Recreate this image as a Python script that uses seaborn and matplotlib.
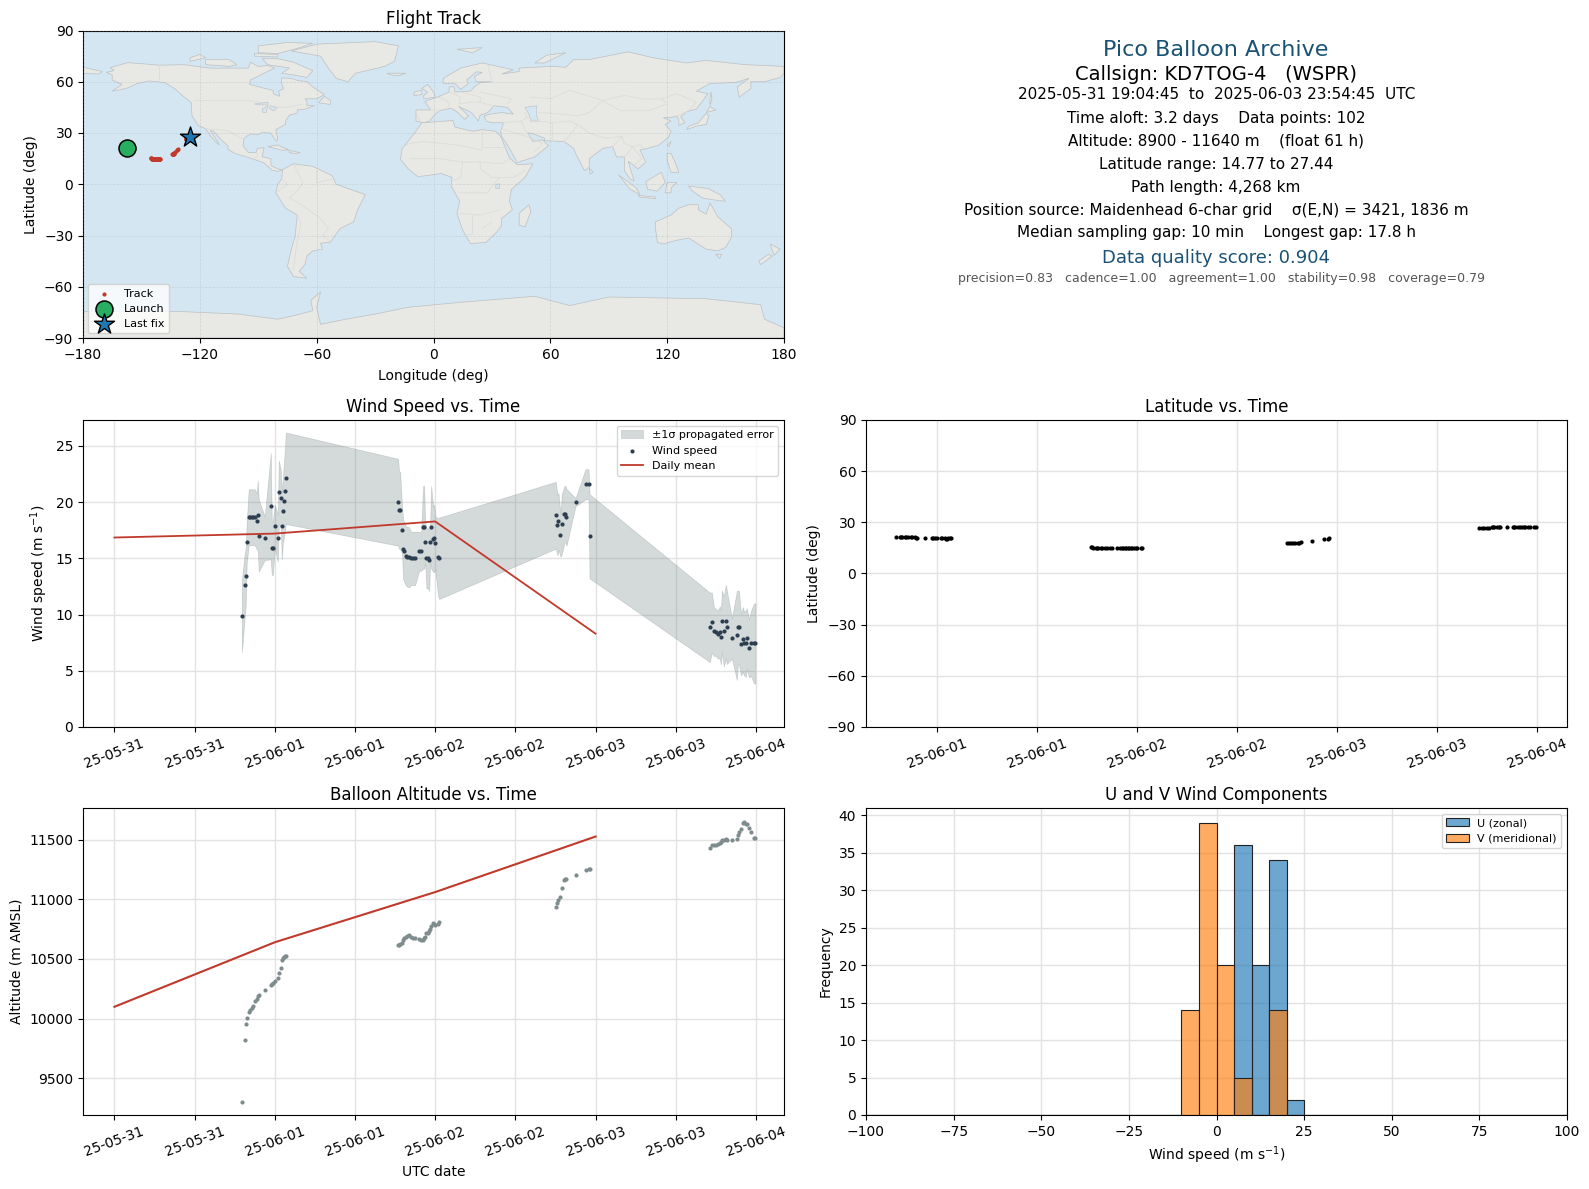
import numpy as np
import pandas as pd
import matplotlib
matplotlib.use("Agg")
import matplotlib.pyplot as plt
import matplotlib.dates as mdates
import seaborn as sns

# ---------- time series data (hours since 2025-05-31 00:00 UTC) ----------
hours = [19.08,19.5,19.65,19.8,20.1,20.3,20.55,20.8,21.0,21.3,21.45,21.6,22.5,23.4,23.55,23.7,24.0,24.45,24.6,24.9,25.05,25.2,25.35,25.5,25.65,
         42.45,42.6,42.75,43.05,43.2,43.35,43.65,43.8,44.1,44.4,44.7,45.0,45.6,45.9,46.2,46.35,46.5,46.7,46.95,47.1,47.25,47.4,47.7,47.85,48.0,48.45,48.6,
         66.05,66.3,66.45,66.75,66.95,67.35,67.5,67.65,69.0,70.5,70.95,71.1,
         89.1,89.4,89.7,90.0,90.3,90.6,90.75,90.9,91.2,91.5,91.65,92.4,93.15,93.3,93.45,93.75,94.05,94.2,94.5,94.65,94.95,95.25,95.7,95.91]
wind = [9.84,12.6,13.4,16.42,18.65,18.65,18.65,18.65,18.65,18.29,18.83,17.02,16.78,19.63,15.89,15.89,17.85,16.78,20.88,20.34,17.85,19.18,20.07,20.96,22.12,
        19.99,19.27,19.27,17.49,15.8,15.62,15.18,15.15,15.09,15.0,15.0,15.0,15.62,15.62,17.76,17.76,16.42,15.0,15.0,14.82,16.42,17.76,16.69,16.78,16.34,15.09,15.0,
        18.83,17.94,18.29,17.05,18.03,18.92,18.92,18.65,19.99,21.59,21.59,16.96,
        8.86,9.3,8.5,8.41,8.23,8.41,7.97,9.39,8.5,9.39,8.86,7.88,8.15,8.86,8.86,7.34,7.79,7.43,7.43,7.88,6.99,7.43,7.43,7.43]
wind_sigma = [3.2,2.85,2.52,1.78,2.49,2.49,2.49,2.49,2.49,2.49,3.09,3.2,1.93,4.72,2.37,2.37,1.93,2.08,2.82,2.52,2.97,2.82,3.26,3.56,4.07,
              3.86,3.44,3.44,2.08,2.61,2.67,2.61,2.67,2.67,2.37,2.37,2.37,1.72,1.72,3.68,3.68,1.78,2.67,2.67,2.73,1.69,3.68,2.91,2.97,2.37,3.47,3.62,
              2.97,2.67,2.52,1.9,2.67,2.52,2.52,2.52,0.36,1.34,1.34,3.74,
              3.09,2.67,2.17,2.08,2.14,2.31,2.4,2.76,3.12,3.26,3.26,1.78,3.98,3.26,3.26,2.76,2.88,2.82,2.97,2.67,2.58,2.88,3.56,3.56]
altitude = [9301,9819,9954,10004,10055,10071,10088,10105,10150,10167,10192,10200,10240,10282,10290,10298,10312,10340,10382,10424,10492,10508,10517,10525,10528,
            10618,10618,10626,10634,10660,10674,10688,10696,10704,10688,10679,10676,10668,10660,10660,10676,10685,10718,10718,10732,10755,10777,10803,10794,10783,10794,10811,
            10939,10972,10997,11022,11098,11165,11170,11173,11207,11249,11257,11257,
            11425,11452,11458,11458,11461,11475,11480,11494,11500,11503,11500,11500,11508,11542,11559,11592,11640,11643,11634,11626,11600,11564,11517,11517]
latitude = [21.3,21.3,21.3,21.3,21.2,21.2,21.2,21.2,21.2,21.2,21.1,21.1,20.9,20.6,20.6,20.7,20.7,20.6,20.6,20.6,20.5,20.5,20.6,20.6,20.6,
            15.3,15.4,15.2,15.0,14.9,14.8,14.8,14.8,14.8,14.8,14.8,14.8,14.8,14.8,14.8,14.8,14.8,14.8,14.8,14.8,14.8,14.77,14.8,14.8,14.8,14.8,14.8,
            17.6,17.6,17.7,17.7,17.8,18.0,18.1,18.2,18.9,20.0,20.2,20.6,
            26.6,26.6,26.6,26.7,26.8,27.0,27.0,27.1,27.1,27.0,27.0,27.1,27.0,27.0,27.0,27.1,27.1,27.1,27.2,27.2,27.2,27.3,27.4,27.44]
longitude = [-157.5,-157.3,-157.2,-157.1,-156.9,-156.8,-156.7,-156.6,-156.5,-156.3,-156.2,-156.1,-155.8,-155.4,-155.3,-155.2,-155.1,-154.9,-154.8,-154.6,-154.5,-154.4,-154.3,-154.2,-154.0,
             -145.2,-145.1,-145.0,-144.8,-144.6,-144.5,-144.3,-144.1,-143.9,-143.7,-143.5,-143.3,-143.0,-142.7,-142.4,-142.2,-142.0,-141.8,-141.6,-141.4,-141.3,-141.2,-141.1,-141.0,-140.9,-140.7,-140.5,
             -134.2,-134.0,-133.9,-133.8,-133.7,-133.5,-133.4,-133.3,-132.7,-131.9,-131.5,-131.2,
             -127.2,-127.1,-127.0,-126.9,-126.8,-126.7,-126.6,-126.5,-126.4,-126.3,-126.3,-126.1,-125.9,-125.8,-125.7,-125.6,-125.5,-125.4,-125.3,-125.2,-125.1,-125.0,-124.9,-124.8]

launch_point = (-157.2, 21.4)
last_fix_point = (-125.0, 27.44)

mean_days = ["2025-05-31", "2025-06-01", "2025-06-02", "2025-06-03"]
mean_wind = [16.85, 17.2, 18.28, 8.3]
mean_altitude = [10100, 10640, 11060, 11525]

u_counts = [36, 20, 34, 2]
u_bin_centres = [7.5, 12.5, 17.5, 22.5]
v_counts = [14, 39, 20, 5, 14]
v_bin_centres = [-7.5, -2.5, 2.5, 7.5, 17.5]

# ---------- map outlines (lon, lat) ----------
NORTH_AMERICA = [(-168,65.5),(-164,66.5),(-166,68.3),(-157,71.2),(-148,70.4),(-141,69.7),(-128,70),(-115,68),(-108,68),(-95,68),(-94,71.5),(-90,69),(-85,69.5),(-81.5,68),(-87,65),(-94,61),(-94.5,58.5),(-88,56.5),(-82.5,55),(-82,52.8),(-79,51.5),(-79.5,54.5),(-77,56),(-78,59),(-78,62.3),(-73,62),(-70,60.8),(-65,60),(-62,57),(-56,52.5),(-60,50),(-66,50),(-65,48.5),(-65,46),(-61,46),(-66,44),(-70,43.5),(-70,41.6),(-74,40.5),(-76,37),(-76,35),(-81,32),(-80,27),(-80.5,25),(-82,27),(-83.5,30),(-88,30.3),(-90,29),(-94,29.5),(-97.3,27),(-97.8,22.5),(-95,18.5),(-91,18.7),(-90.5,21),(-87,21.4),(-88,16),(-83.5,15),(-83.5,11),(-80,9),(-77.5,8.5),(-80,7.5),(-83,8.3),(-87,12.5),(-92,14.5),(-96,16),(-102,18),(-105.5,20.5),(-105.5,22.5),(-109,26),(-113,31),(-114.8,31.5),(-112,27),(-110,23),(-112,25),(-115,29),(-117,32.5),(-121,34.5),(-124,40),(-124.5,48),(-128,51),(-133,56),(-138,59.5),(-146,60.5),(-152,59),(-158,56),(-165,54.5),(-160,58.5),(-165,61),(-165,64)]
SOUTH_AMERICA = [(-77.5,8.5),(-72,12),(-62,10.5),(-52,5),(-50,0),(-44,-2.5),(-35,-6),(-39,-15),(-41,-22),(-48,-26),(-53,-34),(-58,-34.5),(-57,-38),(-62,-39),(-65,-42),(-66,-47),(-69,-51),(-65,-55),(-72,-54),(-75,-48),(-73,-38),(-71,-30),(-70,-18),(-76,-14),(-81,-5),(-80,0),(-78,3)]
AFRICA = [(-6,36),(10,37.3),(11,33.5),(20,31),(25,32),(32,31),(34.5,28),(37,21),(39,15.5),(43,11.5),(51,12),(47,4),(40,-3),(39,-10),(40.5,-15),(35,-20),(35,-24),(32.5,-28),(27,-34),(19,-34.8),(15,-27),(12,-17),(13.5,-10),(9,-1),(9.5,4),(4,6.3),(-4,5),(-8,4.5),(-13,9),(-17,14.7),(-16,21),(-10,29.5)]
EURASIA = [(-9,37),(-9,43.5),(-1.5,43.5),(-4.5,48.5),(2,51),(8,54),(8,57),(10.5,57),(11,54),(19,54.5),(21,57),(24,59.5),(30,60),(22,60),(21,63),(25,65.5),(22,65.8),(17,61),(18,59),(14,55.5),(11,59),(5,59),(5,62),(14,68),(25,71),(41,67),(35,64.5),(44,66),(44,68),(60,69),(68,68.5),(72,73),(80,73),(100,77.5),(113,74),(130,71),(140,72.5),(160,70),(180,69),(180,65),(178,62.5),(170,60),(163,60),(163,56),(157,51),(156,57),(162,62),(155,59.5),(142,59),(135,54.5),(141,53),(135,44),(130,42.5),(127,39.5),(129,36),(126,34.5),(126,37.5),(125,39.7),(121,39),(118,39),(122,37),(119,35),(122,31),(121,28),(116,23),(110,21),(106,20),(109,13),(105,9),(100,13.5),(103,2),(101,3),(98,8),(98,16),(94,16),(92,22),(87,21),(80,15),(80,10),(77.5,8),(73,18),(72,21),(67,25),(57,25.5),(57,27),(50,30),(48.5,30),(51,25),(56,26),(59,22.5),(52,16),(43,12.7),(39,21),(35,28),(34.5,31),(36,36),(30,36),(27,37),(26,40),(29,41),(35,42),(41,41),(38,45),(31,46),(28,42),(24,40.5),(23,37),(19.5,42),(13,45.5),(18,40),(16,38),(12,42.5),(9,44.5),(3,43),(0,40),(-2,37),(-5,36)]
CHUKOTKA = [(-180,65),(-172,64.5),(-170,66),(-180,68.5)]
GREENLAND = [(-73,78),(-60,82),(-30,83.5),(-18,81),(-20,72),(-25,69),(-40,65),(-44,60),(-50,62),(-54,68),(-58,75)]
AUSTRALIA = [(114,-22),(122,-18),(126,-14),(131,-12),(136,-12),(136,-15),(140,-17.5),(142,-11),(146,-19),(153,-26),(153,-31),(150,-37),(146,-39),(140,-38),(136,-35),(131,-31.5),(124,-33),(118,-35),(115,-34),(114,-26)]
ANTARCTICA = [(-180,-74.5),(-130,-74.5),(-100,-76),(-80,-79),(-72,-77),(-62,-74),(-63,-68),(-58,-63),(-60,-72),(-58,-82),(-45,-79),(-30,-76),(-13,-72),(15,-69),(52,-65.6),(70,-71),(90,-66),(140,-67),(168,-70.5),(170,-79),(180,-84),(180,-90),(-180,-90)]
BAFFIN = [(-80,73.5),(-72,71.5),(-62,66.5),(-65,62.5),(-72,64),(-78,65),(-74,68),(-85,70),(-88,73.5)]
VICTORIA = [(-117,70),(-105,69),(-101,70),(-105,73),(-117,73)]
BANKS = [(-125,72),(-117,74),(-120,76),(-125,74)]
ELLESMERE = [(-90,77),(-80,76.5),(-70,79.5),(-62,82.5),(-75,83),(-90,81)]
DEVON = [(-92,75),(-80,74.5),(-80,76),(-92,76.5)]
NEWFOUNDLAND = [(-59,47.7),(-53,46.7),(-53,49),(-56,51.5)]
CUBA = [(-85,22),(-80,23),(-74.2,20),(-78,20)]
HISPANIOLA = [(-74,19.8),(-68.5,18.5),(-71,18),(-74,18.5)]
BRITAIN = [(-5,50),(1,51),(0,54),(-3,58.5),(-6,56),(-3,54),(-5,52)]
IRELAND = [(-10,52),(-6,52.5),(-6,55),(-10,54)]
ICELAND = [(-24,65),(-14,65),(-18,63.5),(-22,64)]
SVALBARD = [(12,79),(25,80),(20,77)]
NOVAYA_ZEMLYA = [(52,71),(57,71),(68,77),(58,75.5)]
MADAGASCAR = [(49,-12),(50,-16),(47,-25),(44,-24),(44,-17)]
HONSHU = [(130,32),(135,34),(140,35),(141.5,40),(140,41.5),(136,36),(131,34)]
HOKKAIDO = [(140,42),(145,43.5),(142,45.5)]
SAKHALIN = [(142,46),(143,50),(142.5,54),(142,50)]
TAIWAN = [(120,23),(122,25),(121,22)]
SRI_LANKA = [(80,9.5),(82,7),(80.5,6)]
SUMATRA = [(95,5.5),(104,-2),(106,-6),(101,-3)]
JAVA = [(105,-6.5),(114,-7.5),(114,-8.5),(106,-7.5)]
BORNEO = [(109,1.5),(117,7),(119,1),(115,-4),(110,-3)]
SULAWESI = [(120,1),(125,1),(122,-2),(122,-5),(119,-5)]
PHILIPPINES = [(120,18),(122,18),(124,13),(126,7),(122,7),(120,14)]
NEW_GUINEA = [(131,-1),(141,-2.5),(147,-6),(150,-10),(143,-9),(138,-8),(133,-4)]
TASMANIA = [(145,-41),(148,-41),(147,-43.5)]
NZ_NORTH = [(173,-35),(178,-38),(175,-41.5),(174,-39)]
NZ_SOUTH = [(172,-41),(174,-42),(168,-47),(167,-45)]
LAND_SHAPES = [NORTH_AMERICA, SOUTH_AMERICA, AFRICA, EURASIA, CHUKOTKA, GREENLAND, AUSTRALIA, ANTARCTICA, BAFFIN, VICTORIA, BANKS,
               ELLESMERE, DEVON, NEWFOUNDLAND, CUBA, HISPANIOLA, BRITAIN, IRELAND, ICELAND, SVALBARD, NOVAYA_ZEMLYA, MADAGASCAR,
               HONSHU, HOKKAIDO, SAKHALIN, TAIWAN, SRI_LANKA, SUMATRA, JAVA, BORNEO, SULAWESI, PHILIPPINES, NEW_GUINEA, TASMANIA,
               NZ_NORTH, NZ_SOUTH]
CASPIAN = [(47,45),(53,46),(53,40),(54,37),(50,37),(49,41)]
LAKE_SUPERIOR = [(-92,47),(-85,48),(-85,46.5),(-90,46.5)]
LAKE_MICHIGAN = [(-88,44),(-85,46),(-86,42),(-87.5,42)]
LAKE_HURON = [(-84,46),(-80,45),(-82,43),(-84,44)]
LAKE_VICTORIA = [(32,0),(34,0.2),(34,-2.5),(32,-2.5)]
WATER_SHAPES = [CASPIAN, LAKE_SUPERIOR, LAKE_MICHIGAN, LAKE_HURON, LAKE_VICTORIA]
BORDER_LINES = [
    [(-141,69.7),(-141,60)],
    [(-123,49),(-95,49),(-89,48),(-83,45),(-75,45),(-67,47)],
    [(-117,32.5),(-106,31.5),(-97.3,26)],
    [(-92,14.5),(-90,18)],
    [(-72,12),(-67,1),(-70,-4),(-74,-8),(-69,-11),(-58,-20),(-54,-26),(-57,-30),(-53,-33.5)],
    [(-70,-18),(-68,-23),(-70,-33),(-72,-50)],
    [(-78,3),(-75,0),(-80,-4)],
    [(-60,8),(-60,1),(-52,3)],
    [(-17,21),(-12,24),(-5,25),(12,23),(25,20),(25,32)],
    [(25,22),(37,22)],
    [(-12,15),(3,15),(15,13),(24,13),(35,12),(39,15)],
    [(15,13),(14,4),(10,2)],
    [(24,13),(24,9),(30,4),(41,4),(47,8)],
    [(13,-5),(28,-5),(30,-1),(34,4)],
    [(12,-17),(24,-18),(34,-15)],
    [(20,-18),(20,-29),(17,-29)],
    [(30,-22),(25,-26)],
    [(-1.5,43.5),(3,42.5)],
    [(-9,42),(-7,37)],
    [(2,51),(7,49),(8,47),(7,44)],
    [(8,54),(14,51),(13,47),(19,48),(24,48),(30,46)],
    [(14,54),(24,51),(24,48)],
    [(28,70),(30,60)],
    [(24,54),(32,52),(40,50),(38,47)],
    [(47,42),(48,39),(45,37),(48,30)],
    [(36,36),(45,37)],
    [(36,32),(48,28),(56,24),(52,19)],
    [(48,39),(54,37),(61,36),(61,25)],
    [(61,36),(70,37),(74,35),(71,30),(67,25)],
    [(50,51),(60,50),(70,55),(87,49)],
    [(54,42),(66,41),(74,40),(80,42),(87,49)],
    [(87,49),(98,52),(107,50),(117,50),(125,53),(135,48),(131,43)],
    [(87,49),(96,43),(110,43),(120,47),(117,50)],
    [(74,35),(80,30),(88,27),(97,28),(98,24),(102,22),(106,23),(108,21)],
    [(92,22),(97,28)],
    [(102,22),(105,18),(107,15),(103,11)],
    [(98,16),(101,20),(102,22)],
    [(125,40),(130,42.5)],
]

HOUR_ORIGIN = pd.Timestamp("2025-05-31 00:00:00")
W, H = 1589, 1189
plt.rcParams.update({"font.family": "DejaVu Sans", "font.size": 10, "axes.titlesize": 12, "axes.labelsize": 10,
                     "xtick.labelsize": 10, "ytick.labelsize": 10, "legend.fontsize": 8})

track = pd.DataFrame({"time": HOUR_ORIGIN + pd.to_timedelta(hours, unit="h"),
                      "wind": wind, "sigma": wind_sigma, "altitude": altitude,
                      "latitude": latitude, "longitude": longitude})
daily = pd.DataFrame({"time": pd.to_datetime(mean_days), "wind": mean_wind, "altitude": mean_altitude})

fig = plt.figure(figsize=(W / 100, H / 100), dpi=100, facecolor="white")


def panel(left, top, right, bottom):
    return fig.add_axes([left / W, 1 - bottom / H, (right - left) / W, (bottom - top) / H])


ax_map = panel(83, 30.5, 784, 338)
ax_wind = panel(83, 420, 784, 727)
ax_lat = panel(866, 420, 1567, 727)
ax_alt = panel(83, 808, 784, 1115)
ax_hist = panel(866, 808, 1567, 1115)

GRID = "#e2e2e2"
RED = "#c0392b"
GREY = "#7f8c8d"

# --- map ---
ax_map.set_facecolor("#d4e6f1")
for shape in LAND_SHAPES:
    xs, ys = zip(*shape)
    ax_map.fill(xs, ys, facecolor="#e8e8e4", edgecolor="#bcc0c3", linewidth=0.5, zorder=1)
for shape in WATER_SHAPES:
    xs, ys = zip(*shape)
    ax_map.fill(xs, ys, facecolor="#d4e6f1", edgecolor="#bcc0c3", linewidth=0.4, zorder=1.1)
for line in BORDER_LINES:
    xs, ys = zip(*line)
    ax_map.plot(xs, ys, color="#dcdcd8", linewidth=0.6, zorder=1.2)
ax_map.grid(True, color="#9aa5ab", linewidth=0.5, linestyle="--", alpha=0.3)
ax_map.set_axisbelow(False)
sns.scatterplot(data=track, x="longitude", y="latitude", ax=ax_map, color=RED, s=9, linewidth=0, label="Track", zorder=3)
sns.scatterplot(x=[launch_point[0]], y=[launch_point[1]], ax=ax_map, color="#27ae60", s=150, edgecolor="black", linewidth=1.1, label="Launch", zorder=4)
sns.scatterplot(x=[last_fix_point[0]], y=[last_fix_point[1]], ax=ax_map, color="#1f77b4", marker="*", s=230, edgecolor="black", linewidth=1.0, label="Last fix", zorder=5)
ax_map.set_xlim(-180, 180)
ax_map.set_ylim(-90, 90)
ax_map.set_xticks(np.arange(-180, 181, 60))
ax_map.set_yticks(np.arange(-90, 91, 30))
ax_map.set_xlabel("Longitude (deg)", labelpad=5)
ax_map.set_ylabel("Latitude (deg)")
ax_map.set_title("Flight Track", pad=5)
ax_map.legend(loc="lower left", framealpha=0.8, labelspacing=0.45, handletextpad=0.8, borderaxespad=0.45)


def date_axis(ax):
    ax.xaxis.set_major_locator(mdates.HourLocator(byhour=[0, 12]))
    ax.xaxis.set_major_formatter(mdates.DateFormatter("%y-%m-%d"))
    ax.tick_params(axis="x", rotation=20)
    ax.grid(True, color=GRID, linewidth=1.0)
    ax.set_axisbelow(True)


# --- wind ---
ax_wind.fill_between(track["time"], track["wind"] - track["sigma"], track["wind"] + track["sigma"],
                     color=GREY, alpha=0.33, linewidth=0.5, label="±1σ propagated error")
sns.scatterplot(data=track, x="time", y="wind", ax=ax_wind, color="#2c3e50", s=9, linewidth=0, label="Wind speed", zorder=3)
sns.lineplot(data=daily, x="time", y="wind", ax=ax_wind, color=RED, linewidth=1.3, label="Daily mean", zorder=4)
ax_wind.set_xlim(HOUR_ORIGIN - pd.Timedelta(hours=4.7), HOUR_ORIGIN + pd.Timedelta(hours=100.2))
ax_wind.set_ylim(0, 27.3)
date_axis(ax_wind)
ax_wind.set_xlabel("")
ax_wind.set_ylabel("Wind speed (m s$^{-1}$)")
ax_wind.set_title("Wind Speed vs. Time")
ax_wind.legend(loc="upper right", framealpha=0.8)

# --- latitude ---
sns.scatterplot(data=track, x="time", y="latitude", ax=ax_lat, color="black", s=9, linewidth=0, zorder=3)
ax_lat.set_xlim(HOUR_ORIGIN + pd.Timedelta(hours=15.45), HOUR_ORIGIN + pd.Timedelta(hours=99.65))
ax_lat.set_ylim(-90, 90)
ax_lat.set_yticks(np.arange(-90, 91, 30))
date_axis(ax_lat)
ax_lat.set_xlabel("")
ax_lat.set_ylabel("Latitude (deg)")
ax_lat.set_title("Latitude vs. Time")

# --- altitude ---
sns.scatterplot(data=track, x="time", y="altitude", ax=ax_alt, color=GREY, s=9, linewidth=0, zorder=3)
sns.lineplot(data=daily, x="time", y="altitude", ax=ax_alt, color=RED, linewidth=1.5, zorder=4)
ax_alt.set_xlim(HOUR_ORIGIN - pd.Timedelta(hours=4.7), HOUR_ORIGIN + pd.Timedelta(hours=100.2))
ax_alt.set_ylim(9194, 11764)
ax_alt.set_yticks([9500, 10000, 10500, 11000, 11500])
date_axis(ax_alt)
ax_alt.set_xlabel("UTC date")
ax_alt.set_ylabel("Altitude (m AMSL)")
ax_alt.set_title("Balloon Altitude vs. Time", pad=5.5)

# --- histogram ---
sns.histplot(x=u_bin_centres, weights=u_counts, binwidth=5, binrange=(-100, 100), ax=ax_hist, color="#1f77b4", alpha=0.65,
             edgecolor="#222222", linewidth=0.8, label="U (zonal)", zorder=2)
sns.histplot(x=v_bin_centres, weights=v_counts, binwidth=5, binrange=(-100, 100), ax=ax_hist, color="#ff7f0e", alpha=0.65,
             edgecolor="#222222", linewidth=0.8, label="V (meridional)", zorder=3)
ax_hist.set_xlim(-100, 100)
ax_hist.set_ylim(0, 40.95)
ax_hist.set_xticks(np.arange(-100, 101, 25))
ax_hist.set_yticks(np.arange(0, 41, 5))
ax_hist.grid(True, color=GRID, linewidth=1.0)
ax_hist.set_axisbelow(True)
ax_hist.set_xlabel("Wind speed (m s$^{-1}$)")
ax_hist.set_ylabel("Frequency")
ax_hist.set_title("U and V Wind Components", pad=5.5)
ax_hist.legend(loc="upper right", framealpha=0.8)

# --- summary text ---
summary = [
    (50.5, 1216, "Pico Balloon Archive", 16, "#1a5276"),
    (74, 1216, "Callsign: KD7TOG-4   (WSPR)", 14, "black"),
    (94.5, 1217, "2025-05-31 19:04:45  to  2025-06-03 23:54:45  UTC", 11, "black"),
    (118, 1216, "Time aloft: 3.2 days    Data points: 102", 11, "black"),
    (141, 1216, "Altitude: 8900 - 11640 m    (float 61 h)", 11, "black"),
    (164, 1216, "Latitude range: 14.77 to 27.44", 11, "black"),
    (187.5, 1216, "Path length: 4,268 km", 11, "black"),
    (210, 1216, "Position source: Maidenhead 6-char grid    σ(E,N) = 3421, 1836 m", 11, "black"),
    (233, 1216.5, "Median sampling gap: 10 min    Longest gap: 17.8 h", 11, "black"),
    (258, 1216, "Data quality score: 0.904", 13, "#1a5276"),
    (278.5, 1221, "precision=0.83   cadence=1.00   agreement=1.00   stability=0.98   coverage=0.79", 9, "#555555"),
]
for y_px, x_px, text, size, colour in summary:
    fig.text(x_px / W, 1 - y_px / H, text, ha="center", va="center", fontsize=size, color=colour)

fig.savefig("out.png", dpi=100)
